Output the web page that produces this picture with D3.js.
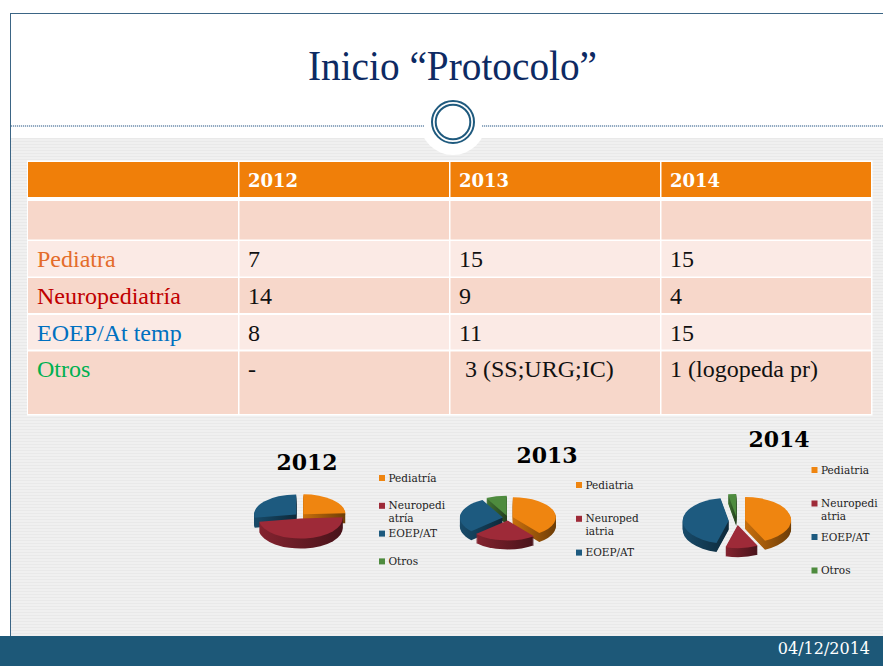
<!DOCTYPE html>
<html>
<head>
<meta charset="utf-8">
<script src="https://cdn.jsdelivr.net/npm/d3@7/dist/d3.min.js"></script>
<style>
  html, body { margin: 0; padding: 0; background: #ffffff; }
  svg { display: block; }
  text { white-space: pre; }
</style>
</head>
<body>
<script>
// ---------------- DATA ----------------
const titleText = "Inicio \u201CProtocolo\u201D";
const dateText = "04/12/2014";
const years = ["2012", "2013", "2014"];
const rowLabels = ["Pediatra", "Neuropediatría", "EOEP/At temp", "Otros"];
const col2012 = ["7", "14", "8", "-"];
const col2013 = ["15", "9", "11", " 3 (SS;URG;IC)"];
const col2014 = ["15", "4", "15", "1 (logopeda pr)"];

const pieCategories = ["Pediatría", "Neuropediatría", "EOEP/AT", "Otros"];
const values2012 = [7, 14, 8, 0];
const values2013 = [15, 9, 11, 3];
const values2014 = [15, 4, 15, 1];

const legend2012 = [["Pediatría"], ["Neuropedi", "atría"], ["EOEP/AT"], ["Otros"]];
const legend2013 = [["Pediatria"], ["Neuroped", "iatria"], ["EOEP/AT"]];
const legend2014 = [["Pediatria"], ["Neuropedi", "atria"], ["EOEP/AT"], ["Otros"]];

// ---------------- STYLE / LAYOUT ----------------
const W = 883, H = 666;
const rowLabelColors = ["#e46c2a", "#c00000", "#0070c0", "#00b050"];
const pieColors = ["#ef8510", "#9e2a38", "#1d5a7f", "#4e8b3e"];

const svg = d3.select("body").append("svg").attr("width", W).attr("height", H);
const defs = svg.append("defs");

// background stripes pattern
const pat = defs.append("pattern").attr("id", "stripes").attr("patternUnits", "userSpaceOnUse")
  .attr("width", 4).attr("height", 3);
pat.append("rect").attr("width", 4).attr("height", 3).attr("fill", "#f0f0f0");
pat.append("rect").attr("width", 4).attr("height", 1).attr("fill", "#e9e9e9");

svg.append("rect").attr("width", W).attr("height", H).attr("fill", "#ffffff");
svg.append("rect").attr("x", 10).attr("y", 138).attr("width", W - 10).attr("height", 636 - 138)
  .attr("fill", "url(#stripes)");

// white bump + circle ornament
const orn = { cx: 453, cy: 122 };
svg.append("circle").attr("cx", orn.cx).attr("cy", orn.cy).attr("r", 33).attr("fill", "#ffffff");

// frame lines
svg.append("line").attr("x1", 10.5).attr("x2", 10.5).attr("y1", 13).attr("y2", 636)
  .attr("stroke", "#3b6585").attr("stroke-width", 1);
svg.append("line").attr("x1", 10).attr("x2", W).attr("y1", 13.5).attr("y2", 13.5)
  .attr("stroke", "#3b6585").attr("stroke-width", 1);

// dotted divider
[[11, 424], [482, W]].forEach(([a, b]) => {
  svg.append("line").attr("x1", a).attr("x2", b).attr("y1", 126).attr("y2", 126)
    .attr("stroke", "#6f8fae").attr("stroke-width", 1.6).attr("stroke-dasharray", "1.2,0.8");
});
svg.append("circle").attr("cx", orn.cx).attr("cy", orn.cy).attr("r", 21)
  .attr("fill", "none").attr("stroke", "#1f5a7e").attr("stroke-width", 2);
svg.append("circle").attr("cx", orn.cx).attr("cy", orn.cy).attr("r", 17.3)
  .attr("fill", "none").attr("stroke", "#1f5a7e").attr("stroke-width", 2);

// title
svg.append("text").attr("x", 308).attr("y", 80)
  .attr("font-family", "'Liberation Serif', serif").attr("font-size", 42)
  .attr("fill", "#0d2a63").attr("textLength", 289).attr("lengthAdjust", "spacingAndGlyphs")
  .text(titleText);

// ---------------- TABLE ----------------
const colEdges = [[28, 238], [239.5, 449], [450.5, 660], [661.5, 871]];
const rowEdges = [[162, 197], [201, 239.5], [241, 276.5], [278, 313], [315, 349.5], [351.5, 414]];
const rowFills = ["#f07f09", "#f7d7ca", "#fbeae5", "#f7d7ca", "#fbeae5", "#f7d7ca"];
svg.append("rect").attr("x", 27).attr("y", 160.5).attr("width", 845.5).attr("height", 255)
  .attr("fill", "#ffffff");
rowEdges.forEach((r, i) => {
  colEdges.forEach(c => {
    svg.append("rect").attr("x", c[0]).attr("y", r[0]).attr("width", c[1] - c[0])
      .attr("height", r[1] - r[0]).attr("fill", rowFills[i]);
  });
});
const colTextX = [37, 248, 459, 670];
years.forEach((y, i) => {
  svg.append("text").attr("x", colTextX[i + 1]).attr("y", 187)
    .attr("font-family", "'DejaVu Serif', serif").attr("font-weight", "bold").attr("font-size", 18)
    .attr("fill", "#ffffff").text(y);
});
const rowBaselines = [267, 304, 341, 377];
const tableCols = [col2012, col2013, col2014];
rowLabels.forEach((lab, i) => {
  svg.append("text").attr("x", colTextX[0]).attr("y", rowBaselines[i])
    .attr("font-family", "'Liberation Serif', serif").attr("font-size", 24)
    .attr("fill", rowLabelColors[i]).text(lab);
  tableCols.forEach((col, j) => {
    svg.append("text").attr("x", colTextX[j + 1]).attr("y", rowBaselines[i])
      .attr("font-family", "'Liberation Serif', serif").attr("font-size", 24)
      .attr("fill", "#111111").text(col[i]);
  });
});

// ---------------- 3D PIES ----------------
const pieGen = d3.pie().sort(null).value(d => d);
const arcGen = d3.arc().innerRadius(0).outerRadius(1);

pieColors.forEach((c, i) => {
  const g = defs.append("linearGradient").attr("id", "side" + i)
    .attr("x1", 0).attr("x2", 1).attr("y1", 0).attr("y2", 0);
  g.append("stop").attr("offset", "0%").attr("stop-color", d3.color(c).darker(0.5));
  g.append("stop").attr("offset", "100%").attr("stop-color", d3.color(c).darker(2.2));
});

function drawPie(values, cfg) {
  const arcs = pieGen(values).filter(a => a.value > 0);
  const g = svg.append("g");
  const offs = arcs.map(a => {
    const m = (a.startAngle + a.endAngle) / 2;
    return { dx: Math.sin(m) * cfg.explode * cfg.rx, dy: -Math.cos(m) * cfg.explode * cfg.ry };
  });
  // sides
  for (let k = cfg.depth; k >= 1; k--) {
    arcs.forEach((a, i) => {
      g.append("path").attr("d", arcGen(a))
        .attr("transform", `translate(${cfg.cx + offs[i].dx},${cfg.cy + offs[i].dy + k}) scale(${cfg.rx},${cfg.ry})`)
        .attr("fill", `url(#side${a.index})`);
    });
  }
  // tops
  arcs.forEach((a, i) => {
    g.append("path").attr("d", arcGen(a))
      .attr("transform", `translate(${cfg.cx + offs[i].dx},${cfg.cy + offs[i].dy}) scale(${cfg.rx},${cfg.ry})`)
      .attr("fill", pieColors[a.index]);
  });
  // title
  svg.append("text").attr("x", cfg.tx).attr("y", cfg.ty).attr("text-anchor", "middle")
    .attr("font-family", "'DejaVu Serif', serif").attr("font-weight", "bold").attr("font-size", 22)
    .attr("fill", "#000000").text(cfg.title);
  // legend
  cfg.legend.forEach((lines, i) => {
    const y = cfg.ly + i * cfg.lstep;
    svg.append("rect").attr("x", cfg.lx).attr("y", y - 6.5).attr("width", 6).attr("height", 6)
      .attr("fill", pieColors[i]);
    lines.forEach((ln, j) => {
      svg.append("text").attr("x", cfg.lx + 9.5).attr("y", y + j * 12.7)
        .attr("font-family", "'DejaVu Serif', serif").attr("font-size", 10.5)
        .attr("fill", "#222222").text(ln);
    });
  });
}

drawPie(values2012, { cx: 300, cy: 516, rx: 42, ry: 20, depth: 10, explode: 0.12,
  title: years[0], tx: 307, ty: 470, legend: legend2012, lx: 379, ly: 481.5, lstep: 27.8 });
drawPie(values2013, { cx: 508, cy: 518, rx: 43, ry: 20, depth: 9, explode: 0.12,
  title: years[1], tx: 547, ty: 463, legend: legend2013, lx: 576, ly: 488.5, lstep: 33.8 });
drawPie(values2014, { cx: 737, cy: 521, rx: 46, ry: 23, depth: 9, explode: 0.18,
  title: years[2], tx: 779, ty: 447, legend: legend2014, lx: 811.5, ly: 473.5, lstep: 33.5 });

// ---------------- FOOTER ----------------
svg.append("rect").attr("x", 0).attr("y", 636).attr("width", W).attr("height", H - 636)
  .attr("fill", "#1d5878");
svg.append("text").attr("x", 870).attr("y", 654).attr("text-anchor", "end")
  .attr("font-family", "'DejaVu Serif', serif").attr("font-size", 16)
  .attr("fill", "#ffffff").text(dateText);
</script>
</body>
</html>
